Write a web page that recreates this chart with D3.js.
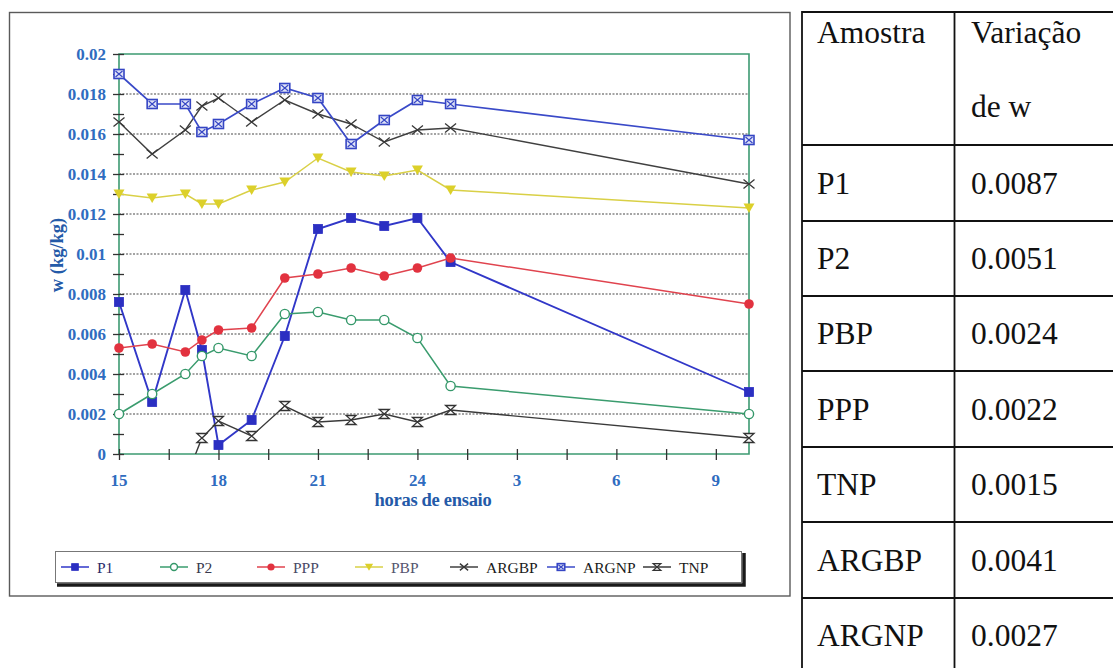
<!DOCTYPE html>
<html>
<head>
<meta charset="utf-8">
<script src="https://cdn.jsdelivr.net/npm/d3@7"></script>
<style>
  html, body { margin: 0; padding: 0; background: #fff; }
  svg { display: block; }
  text { font-family: "Liberation Serif", "Times New Roman", serif; }
</style>
</head>
<body>
<svg id="chart" width="1113" height="668"></svg>
<script>
// Sampling hours (hours past midnight of the first day continue past 24)
const hours = [15, 16, 17, 17.5, 18, 19, 20, 21, 22, 23, 24, 25, 34];

// Moisture content w (kg/kg) per sample
const p1    = [0.0076, 0.0026, 0.0082, 0.0052, 0.00045, 0.0017, 0.0059, 0.01125, 0.0118, 0.0114, 0.0118, 0.0096, 0.0031];
const p2    = [0.0020, 0.0030, 0.0040, 0.0049, 0.0053, 0.0049, 0.0070, 0.0071, 0.0067, 0.0067, 0.0058, 0.0034, 0.0020];
const ppp   = [0.0053, 0.0055, 0.0051, 0.0057, 0.0062, 0.0063, 0.0088, 0.0090, 0.0093, 0.0089, 0.0093, 0.0098, 0.0075];
const pbp   = [0.0130, 0.0128, 0.0130, 0.0125, 0.0125, 0.0132, 0.0136, 0.0148, 0.0141, 0.0139, 0.0142, 0.0132, 0.0123];
const argbp = [0.0166, 0.0150, 0.0162, 0.0174, 0.0178, 0.0166, 0.0177, 0.0170, 0.0165, 0.0156, 0.0162, 0.0163, 0.0135];
const argnp = [0.0190, 0.0175, 0.0175, 0.0161, 0.0165, 0.0175, 0.0183, 0.0178, 0.0155, 0.0167, 0.0177, 0.0175, 0.0157];

// TNP series starts later; its first reading lies below zero
const tnpHours = [17, 17.5, 18, 19, 20, 21, 22, 23, 24, 25, 34];
const tnp      = [-0.0013, 0.0008, 0.00165, 0.0009, 0.0024, 0.0016, 0.0017, 0.0020, 0.0016, 0.0022, 0.0008];

// Axis ticks
const xTicks = [15, 16.5, 18, 19.5, 21, 22.5, 24, 25.5, 27, 28.5, 30, 31.5, 33];
const xLabelHours = [15, 18, 21, 24, 27, 30, 33];
const yLabels = [0, 0.002, 0.004, 0.006, 0.008, 0.01, 0.012, 0.014, 0.016, 0.018, 0.02];

// Summary table
const tableSamples   = ["P1", "P2", "PBP", "PPP", "TNP", "ARGBP", "ARGNP"];
const tableVariation = ["0.0087", "0.0051", "0.0024", "0.0022", "0.0015", "0.0041", "0.0027"];

const svg = d3.select("#chart");

const x = d3.scaleLinear().domain([15, 34]).range([119, 749]);
const y = d3.scaleLinear().domain([0, 0.02]).range([454, 54]);

const green = "#3d9a72";
const tickBlue = "#2f6cbf";
const titleBlue = "#245aa8";

// Outer frame of the chart
svg.append("rect")
  .attr("x", 9.5).attr("y", 12.5).attr("width", 780.5).attr("height", 583.5)
  .attr("fill", "none").attr("stroke", "#5a5a5a").attr("stroke-width", 1.4);

// Dotted horizontal gridlines
svg.append("g").selectAll("line")
  .data(yLabels.filter(v => v > 0 && v < 0.02))
  .join("line")
  .attr("x1", x(15)).attr("x2", x(34))
  .attr("y1", d => y(d)).attr("y2", d => y(d))
  .attr("stroke", "#4a4a4a").attr("stroke-width", 1.1)
  .attr("stroke-dasharray", "2,1.5");

// Plot frame (green)
svg.append("path")
  .attr("d", `M${x(15)},${y(0)}V${y(0.02)}H${x(34)}V${y(0)}Z`)
  .attr("fill", "none").attr("stroke", green).attr("stroke-width", 1.6);

// Y axis: ticks cross the axis line
const yAxis = d3.axisLeft(y)
  .tickValues(d3.range(0, 0.02001, 0.001))
  .tickSize(0)
  .tickFormat("");
const yg = svg.append("g").attr("transform", `translate(${x(15)},0)`).call(yAxis);
yg.select(".domain").remove();
yg.selectAll(".tick").append("line")
  .attr("x1", -6).attr("x2", 5).attr("stroke", "#333").attr("stroke-width", 1.3);
yg.selectAll(".tick text").remove();

svg.append("g").selectAll("text")
  .data(yLabels)
  .join("text")
  .attr("x", 106).attr("y", d => y(d) + 5.5)
  .attr("text-anchor", "end")
  .attr("font-size", 17).attr("font-weight", "bold")
  .attr("fill", tickBlue)
  .text(d => d === 0 ? "0" : String(+d.toFixed(3)));

// X axis: ticks cross the axis line, labels wrap past midnight
const xAxis = d3.axisBottom(x).tickValues(xTicks).tickSize(0).tickFormat("");
const xg = svg.append("g").attr("transform", `translate(0,${y(0)})`).call(xAxis);
xg.select(".domain").remove();
xg.selectAll(".tick").append("line")
  .attr("y1", -5).attr("y2", 6).attr("stroke", "#333").attr("stroke-width", 1.3);
xg.selectAll(".tick text").remove();

svg.append("g").selectAll("text")
  .data(xLabelHours)
  .join("text")
  .attr("x", d => x(d)).attr("y", 486)
  .attr("text-anchor", "middle")
  .attr("font-size", 17).attr("font-weight", "bold")
  .attr("fill", tickBlue)
  .text(d => d > 24 ? d - 24 : d);

// Axis titles
svg.append("text")
  .attr("x", 433).attr("y", 506)
  .attr("text-anchor", "middle")
  .attr("font-size", 18.5).attr("font-weight", "bold")
  .attr("fill", titleBlue)
  .attr("letter-spacing", -0.3)
  .text("horas de ensaio");

svg.append("text")
  .attr("transform", "translate(63,255) rotate(-90)")
  .attr("text-anchor", "middle")
  .attr("font-size", 18.5).attr("font-weight", "bold")
  .attr("fill", titleBlue)
  .text("w (kg/kg)");

// Marker shapes
function drawMarker(g, type, color, s) {
  const k = s || 1;
  if (type === "square") {
    g.append("rect").attr("x", -4.5 * k).attr("y", -4.5 * k).attr("width", 9 * k).attr("height", 9 * k)
      .attr("fill", color).attr("stroke", color).attr("stroke-width", 0.8);
  } else if (type === "openCircle") {
    g.append("circle").attr("r", 4.6 * k).attr("fill", "#fff").attr("stroke", color).attr("stroke-width", 1.4);
  } else if (type === "dot") {
    g.append("circle").attr("r", 4.8 * k).attr("fill", color);
  } else if (type === "triangle") {
    g.append("path").attr("d", `M${-5.5 * k},${-4.5 * k}L${5.5 * k},${-4.5 * k}L0,${5 * k}Z`).attr("fill", color);
  } else if (type === "cross") {
    g.append("path").attr("d", `M${-5.5 * k},${-4.5 * k}L${5.5 * k},${4.5 * k}M${-5.5 * k},${4.5 * k}L${5.5 * k},${-4.5 * k}`)
      .attr("stroke", color).attr("stroke-width", 1.3);
  } else if (type === "boxCross") {
    g.append("rect").attr("x", -5 * k).attr("y", -4.5 * k).attr("width", 10 * k).attr("height", 9 * k)
      .attr("fill", "#dfe3f7").attr("stroke", color).attr("stroke-width", 1.6);
    g.append("path").attr("d", `M${-3.5 * k},${-3 * k}L${3.5 * k},${3 * k}M${-3.5 * k},${3 * k}L${3.5 * k},${-3 * k}`)
      .attr("stroke", color).attr("stroke-width", 1.1);
  } else if (type === "hourglass") {
    g.append("path").attr("d", `M${-5 * k},${-4.5 * k}L${5 * k},${-4.5 * k}L${-5 * k},${4.5 * k}L${5 * k},${4.5 * k}Z`)
      .attr("fill", "#fff").attr("stroke", color).attr("stroke-width", 1.3);
  }
}

const series = [
  { name: "P1",    xs: hours,    ys: p1,    color: "#2b2fc2", line: "#3137c8", width: 1.9, marker: "square" },
  { name: "P2",    xs: hours,    ys: p2,    color: "#35986a", line: "#3a9c6e", width: 1.5, marker: "openCircle" },
  { name: "PPP",   xs: hours,    ys: ppp,   color: "#e2323f", line: "#e0434e", width: 1.5, marker: "dot" },
  { name: "PBP",   xs: hours,    ys: pbp,   color: "#dcd02a", line: "#d9d046", width: 1.5, marker: "triangle" },
  { name: "ARGBP", xs: hours,    ys: argbp, color: "#383838", line: "#404040", width: 1.4, marker: "cross" },
  { name: "ARGNP", xs: hours,    ys: argnp, color: "#3545c4", line: "#3a4ac8", width: 1.7, marker: "boxCross" },
  { name: "TNP",   xs: tnpHours, ys: tnp,   color: "#333333", line: "#3a3a3a", width: 1.4, marker: "hourglass" }
];

svg.append("clipPath").attr("id", "plotClip")
  .append("rect").attr("x", x(15)).attr("y", y(0.02) - 8).attr("width", x(34) - x(15) + 10).attr("height", y(0) - y(0.02) + 8);

const line = d3.line().x(d => x(d[0])).y(d => y(d[1]));

const plot = svg.append("g");
series.forEach(s => {
  const pts = s.xs.map((h, i) => [h, s.ys[i]]);
  const g = plot.append("g");
  g.append("path")
    .attr("d", line(pts))
    .attr("clip-path", "url(#plotClip)")
    .attr("fill", "none").attr("stroke", s.line).attr("stroke-width", s.width);
  g.selectAll("g.pt")
    .data(pts.filter(p => p[1] >= 0))
    .join("g").attr("class", "pt")
    .attr("transform", d => `translate(${x(d[0])},${y(d[1])})`)
    .each(function () { drawMarker(d3.select(this), s.marker, s.color, 1); });
});

// Legend with drop shadow
const legend = svg.append("g");
legend.append("path")
  .attr("d", "M57,585H744V553")
  .attr("fill", "none").attr("stroke", "#1a1a1a").attr("stroke-width", 3.5);
legend.append("rect")
  .attr("x", 55.5).attr("y", 551.5).attr("width", 686).attr("height", 31)
  .attr("fill", "#fff").attr("stroke", "#777").attr("stroke-width", 1);

const legendX = [61, 160, 257, 355, 450, 547, 643];
const legendText = ["#2c2c6a", "#3a3a4e", "#4a4a66", "#55556e", "#1a1a1a", "#1a1a1a", "#1a1a1a"];
series.forEach((s, i) => {
  const x0 = legendX[i];
  const g = legend.append("g");
  g.append("line").attr("x1", x0).attr("x2", x0 + 28).attr("y1", 567).attr("y2", 567)
    .attr("stroke", s.line).attr("stroke-width", 1.5);
  const m = g.append("g").attr("transform", `translate(${x0 + 14},567)`);
  drawMarker(m, s.marker, s.color, 0.75);
  g.append("text").attr("x", x0 + 36).attr("y", 572.5)
    .attr("font-size", 15.5).attr("fill", legendText[i])
    .text(s.name);
});

// Summary table
const table = svg.append("g");
const rowLines = [12, 145, 221, 296, 371, 447, 522, 598, 673];
table.selectAll("line.h")
  .data(rowLines)
  .join("line").attr("class", "h")
  .attr("x1", 802).attr("x2", 1120)
  .attr("y1", d => d).attr("y2", d => d)
  .attr("stroke", "#111").attr("stroke-width", 1.8);
[802, 954.5].forEach(vx => {
  table.append("line").attr("x1", vx).attr("x2", vx).attr("y1", 11).attr("y2", 680)
    .attr("stroke", "#111").attr("stroke-width", 1.8);
});

const cellFont = 31.5;
table.append("text").attr("x", 817).attr("y", 43).attr("font-size", cellFont).attr("fill", "#111").text("Amostra");
table.append("text").attr("x", 971).attr("y", 43).attr("font-size", cellFont).attr("fill", "#111").text("Variação");
table.append("text").attr("x", 971).attr("y", 117).attr("font-size", cellFont).attr("fill", "#111").text("de w");

tableSamples.forEach((name, i) => {
  const top = rowLines[i + 1], bottom = rowLines[i + 2];
  const by = (top + bottom) / 2 + 10.5;
  table.append("text").attr("x", 817).attr("y", by).attr("font-size", cellFont).attr("fill", "#111").text(name);
  table.append("text").attr("x", 971).attr("y", by).attr("font-size", cellFont).attr("fill", "#111").text(tableVariation[i]);
});
</script>
</body>
</html>
